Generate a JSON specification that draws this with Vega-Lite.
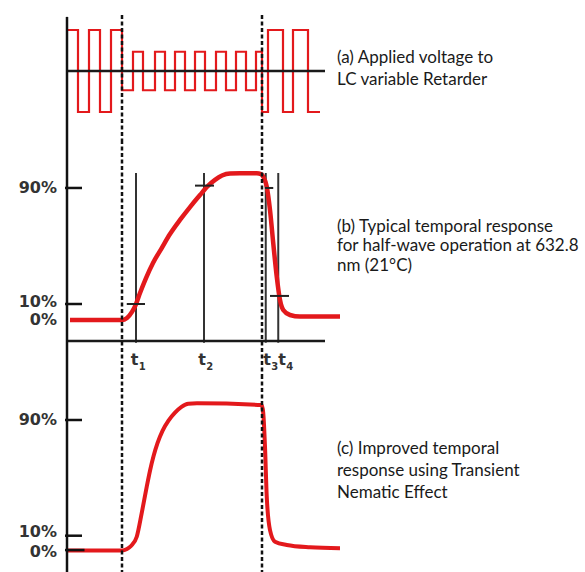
{
  "$schema": "https://vega.github.io/schema/vega-lite/v6.json",
  "background": "white",
  "padding": 0,
  "spacing": 0,
  "bounds": "flush",
  "config": {"view": {"stroke": null}},
  "resolve": {"scale": {"x": "independent", "y": "independent"}},
  "vconcat": [
    {
      "width": 585,
      "height": 140,
      "encoding": {
        "x": {"field": "t", "type": "quantitative", "scale": {"domain": [-26.8, 207.2], "nice": false, "zero": false}, "axis": null},
        "y": {"field": "v", "type": "quantitative", "scale": {"domain": [-16.83, 17.32], "nice": false, "zero": false}, "axis": null}
      },
      "layer": [
        {
          "data": {"values": [
            {"t": 0.2, "v": 10}, {"t": 4.4, "v": -10}, {"t": 8.8, "v": 10}, {"t": 13.2, "v": -10}, {"t": 17.6, "v": 10},
            {"t": 22, "v": -4.7}, {"t": 26.4, "v": 4.7}, {"t": 30.4, "v": -4.7}, {"t": 35.2, "v": 4.7}, {"t": 39.2, "v": -4.7},
            {"t": 43.2, "v": 4.7}, {"t": 47.2, "v": -4.7}, {"t": 51.2, "v": 4.7}, {"t": 55.2, "v": -4.7}, {"t": 59.6, "v": 4.7},
            {"t": 63.6, "v": -4.7}, {"t": 67.6, "v": 4.7}, {"t": 71.6, "v": -4.7}, {"t": 75.6, "v": 4.7},
            {"t": 78, "v": -10}, {"t": 80.4, "v": 10}, {"t": 86.4, "v": -10}, {"t": 90.4, "v": 10}, {"t": 96.4, "v": -10}, {"t": 101.2, "v": -10}
          ]},
          "mark": {"type": "line", "interpolate": "step-after", "color": "#e3191c", "strokeWidth": 2.2},
          "encoding": {"order": {"field": "t", "type": "quantitative"}}
        },
        {
          "data": {"values": [{"t": 0, "t2": 103.2, "v": 0}]},
          "mark": {"type": "rule", "color": "#1a1a1a", "strokeWidth": 2.5},
          "encoding": {"x2": {"field": "t2"}}
        },
        {
          "data": {"values": [{"t": 0, "v": 13.2, "v2": -16.83}]},
          "mark": {"type": "rule", "color": "#111", "strokeWidth": 2.5},
          "encoding": {"y2": {"field": "v2"}}
        },
        {
          "data": {"values": [{"t": 22, "v": 13.66, "v2": -16.83}, {"t": 78, "v": 13.66, "v2": -16.83}]},
          "mark": {"type": "rule", "color": "#111", "strokeWidth": 2.5, "strokeDash": [4, 2.5]},
          "encoding": {"y2": {"field": "v2"}}
        },
        {
          "data": {"values": [{"t": 108, "v": 1.88, "label": "(a) Applied voltage to\nLC variable Retarder"}]},
          "mark": {"type": "text", "align": "left", "baseline": "alphabetic", "lineBreak": "\n", "lineHeight": 21.7, "font": "Lato", "fontSize": 17, "color": "#1a1a1a"},
          "encoding": {"text": {"field": "label"}}
        }
      ]
    },
    {
      "width": 585,
      "height": 235,
      "encoding": {
        "x": {"field": "t", "type": "quantitative", "scale": {"domain": [-26.8, 207.2], "nice": false, "zero": false}, "axis": null},
        "y": {"field": "v", "type": "quantitative", "scale": {"domain": [-37.5, 122.7], "nice": false, "zero": false}, "axis": null}
      },
      "layer": [
        {
          "data": {"values": [
            {"t": 27.6, "v": 100.2, "v2": -15.5}, {"t": 54.8, "v": 100.2, "v2": -15.5},
            {"t": 79.5, "v": 100.2, "v2": -15.5}, {"t": 84.5, "v": 100.2, "v2": -15.5}
          ]},
          "mark": {"type": "rule", "color": "#333", "strokeWidth": 2},
          "encoding": {"y2": {"field": "v2"}}
        },
        {
          "data": {"values": [
            {"t": 1.2, "v": 0}, {"t": 21.9, "v": 0}, {"t": 24, "v": 1.4}, {"t": 26, "v": 5.5}, {"t": 27.6, "v": 10.9},
            {"t": 29.2, "v": 18.4}, {"t": 31.6, "v": 28.6}, {"t": 34.4, "v": 38.9}, {"t": 37.6, "v": 48.2}, {"t": 41.2, "v": 58.6},
            {"t": 45.2, "v": 68.2}, {"t": 49.2, "v": 77}, {"t": 53.2, "v": 85.2}, {"t": 56.4, "v": 91.4}, {"t": 59.2, "v": 95.5},
            {"t": 62, "v": 98.5}, {"t": 65.2, "v": 99.9}, {"t": 69.2, "v": 100},
            {"t": 75.9, "v": 100}, {"t": 77.6, "v": 99.5}, {"t": 78.5, "v": 97.7}, {"t": 79.9, "v": 90.9}, {"t": 81.2, "v": 75},
            {"t": 82.5, "v": 52.3}, {"t": 83.9, "v": 29.5}, {"t": 85.2, "v": 13.6}, {"t": 86.5, "v": 6.8}, {"t": 89.2, "v": 3.4},
            {"t": 93.2, "v": 2.3}, {"t": 109.2, "v": 2.3}
          ]},
          "mark": {"type": "line", "interpolate": "monotone", "color": "#e3191c", "strokeWidth": 4.5},
          "encoding": {"order": {"field": "t", "type": "quantitative"}}
        },
        {
          "data": {"values": [
            {"t": 23.9, "t2": 31.2, "v": 10.9}, {"t": 51.2, "t2": 58.8, "v": 91.6},
            {"t": 79.2, "t2": 82.5, "v": 90}, {"t": 81.2, "t2": 88.8, "v": 16.4}
          ]},
          "mark": {"type": "rule", "color": "#222", "strokeWidth": 2},
          "encoding": {"x2": {"field": "t2"}}
        },
        {
          "data": {"values": [{"t": 0, "t2": 103.2, "v": -14.3}]},
          "mark": {"type": "rule", "color": "#1a1a1a", "strokeWidth": 2.5},
          "encoding": {"x2": {"field": "t2"}}
        },
        {
          "data": {"values": [{"t": -0.8, "t2": 6, "v": 90}, {"t": -0.8, "t2": 6, "v": 10.9}]},
          "mark": {"type": "rule", "color": "#111", "strokeWidth": 2.5},
          "encoding": {"x2": {"field": "t2"}}
        },
        {
          "data": {"values": [{"t": 0, "v": 122.7, "v2": -37.5}]},
          "mark": {"type": "rule", "color": "#111", "strokeWidth": 2.5},
          "encoding": {"y2": {"field": "v2"}}
        },
        {
          "data": {"values": [{"t": 22, "v": 122.7, "v2": -37.5}, {"t": 78, "v": 122.7, "v2": -37.5}]},
          "mark": {"type": "rule", "color": "#111", "strokeWidth": 2.5, "strokeDash": [4, 2.5]},
          "encoding": {"y2": {"field": "v2"}}
        },
        {
          "data": {"values": [{"t": -4, "v": 90, "label": "90%"}, {"t": -4, "v": 12.5, "label": "10%"}, {"t": -4, "v": 0, "label": "0%"}]},
          "mark": {"type": "text", "align": "right", "baseline": "middle", "font": "DejaVu Sans", "fontWeight": "bold", "fontSize": 16, "color": "#333"},
          "encoding": {"text": {"field": "label"}}
        },
        {
          "data": {"values": [{"t": 25.5, "v": -27.3, "label": "t"}, {"t": 52.5, "v": -27.3, "label": "t"}, {"t": 78.5, "v": -27.3, "label": "t"}, {"t": 84.5, "v": -27.3, "label": "t"}]},
          "mark": {"type": "text", "align": "left", "baseline": "middle", "font": "DejaVu Sans", "fontWeight": "bold", "fontSize": 16, "color": "#333"},
          "encoding": {"text": {"field": "label"}}
        },
        {
          "data": {"values": [{"t": 25.5, "v": -27.3, "label": "1"}, {"t": 52.5, "v": -27.3, "label": "2"}, {"t": 78.5, "v": -27.3, "label": "3"}, {"t": 84.5, "v": -27.3, "label": "4"}]},
          "mark": {"type": "text", "align": "left", "baseline": "middle", "dx": 8, "dy": 7, "font": "DejaVu Sans", "fontWeight": "bold", "fontSize": 10, "color": "#333"},
          "encoding": {"text": {"field": "label"}}
        },
        {
          "data": {"values": [{"t": 108, "v": 60.2, "label": "(b) Typical temporal response\nfor half-wave operation at 632.8\nnm (21°C)"}]},
          "mark": {"type": "text", "align": "left", "baseline": "alphabetic", "lineBreak": "\n", "lineHeight": 19.8, "font": "Lato", "fontSize": 17, "color": "#1a1a1a"},
          "encoding": {"text": {"field": "label"}}
        }
      ]
    },
    {
      "width": 585,
      "height": 197,
      "encoding": {
        "x": {"field": "t", "type": "quantitative", "scale": {"domain": [-26.8, 207.2], "nice": false, "zero": false}, "axis": null},
        "y": {"field": "v", "type": "quantitative", "scale": {"domain": [-14.83, 121.03], "nice": false, "zero": false}, "axis": null}
      },
      "layer": [
        {
          "data": {"values": [
            {"t": 0, "v": 0}, {"t": 21.9, "v": 0}, {"t": 24, "v": 1}, {"t": 25.6, "v": 3.1}, {"t": 27.9, "v": 9.5},
            {"t": 29.9, "v": 25.9}, {"t": 31.9, "v": 44}, {"t": 33.2, "v": 55}, {"t": 34.6, "v": 65}, {"t": 36.2, "v": 74},
            {"t": 38.2, "v": 82.5}, {"t": 40.6, "v": 89.5}, {"t": 43.2, "v": 95}, {"t": 45.8, "v": 99}, {"t": 48.5, "v": 101.2},
            {"t": 52, "v": 101.5}, {"t": 77.9, "v": 100.3}, {"t": 78.5, "v": 94.8}, {"t": 79.2, "v": 71.6},
            {"t": 79.9, "v": 37.1}, {"t": 81.2, "v": 14.1}, {"t": 83.2, "v": 6.1}, {"t": 87.9, "v": 3.8}, {"t": 97.2, "v": 2.2},
            {"t": 109.2, "v": 1.5}
          ]},
          "mark": {"type": "line", "interpolate": "monotone", "color": "#e3191c", "strokeWidth": 4},
          "encoding": {"order": {"field": "t", "type": "quantitative"}}
        },
        {
          "data": {"values": [{"t": -0.8, "t2": 6, "v": 90}, {"t": -0.8, "t2": 6, "v": 10.2}, {"t": -0.8, "t2": 7, "v": 0.3}]},
          "mark": {"type": "rule", "color": "#111", "strokeWidth": 2.5},
          "encoding": {"x2": {"field": "t2"}}
        },
        {
          "data": {"values": [{"t": 0, "v": 121.03, "v2": -14.83}]},
          "mark": {"type": "rule", "color": "#111", "strokeWidth": 2.5},
          "encoding": {"y2": {"field": "v2"}}
        },
        {
          "data": {"values": [{"t": 22, "v": 121.03, "v2": -14.83}, {"t": 78, "v": 121.03, "v2": -14.83}]},
          "mark": {"type": "rule", "color": "#111", "strokeWidth": 2.5, "strokeDash": [4, 2.5]},
          "encoding": {"y2": {"field": "v2"}}
        },
        {
          "data": {"values": [{"t": -4, "v": 90, "label": "90%"}, {"t": -4, "v": 12.8, "label": "10%"}, {"t": -4, "v": -0.8, "label": "0%"}]},
          "mark": {"type": "text", "align": "right", "baseline": "middle", "font": "DejaVu Sans", "fontWeight": "bold", "fontSize": 16, "color": "#333"},
          "encoding": {"text": {"field": "label"}}
        },
        {
          "data": {"values": [{"t": 108, "v": 66.6, "label": "(c) Improved temporal\nresponse using Transient\nNematic Effect"}]},
          "mark": {"type": "text", "align": "left", "baseline": "alphabetic", "lineBreak": "\n", "lineHeight": 21.8, "font": "Lato", "fontSize": 17, "color": "#1a1a1a"},
          "encoding": {"text": {"field": "label"}}
        }
      ]
    }
  ]
}
